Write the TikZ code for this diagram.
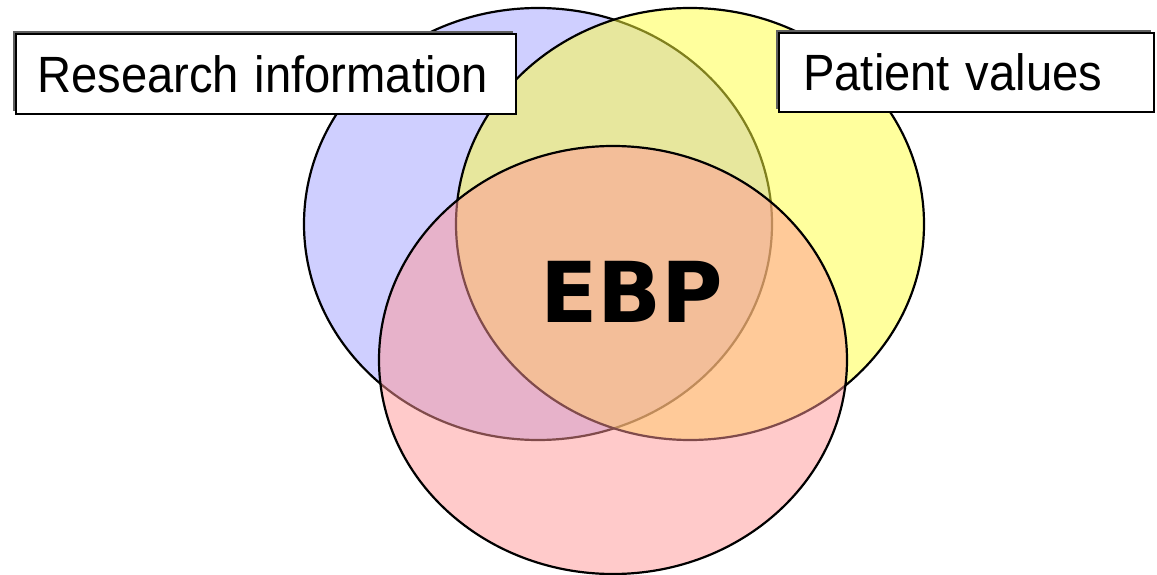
\documentclass[tikz,border=0pt]{standalone}
\usepackage{fontspec}
\setmainfont{Liberation Sans}
\newfontfamily\ebpfont{DejaVu Sans}
\usetikzlibrary{shadows}
\definecolor{cblue}{RGB}{160,160,255}
\definecolor{cyellow}{RGB}{255,255,60}
\definecolor{cred}{RGB}{255,150,150}
\definecolor{shadowgray}{RGB}{95,95,95}
\tikzset{
  venn/.style={draw=black, line width=2.2pt, fill opacity=0.5},
  labelbox/.style={draw=black, line width=2.4pt, fill=white, rectangle,
    anchor=north west, align=left, inner ysep=0pt,
    font=\fontsize{51}{56}\selectfont,
    drop shadow={shadow xshift=-3.5pt, shadow yshift=3.5pt, fill=shadowgray, opacity=1}},
}
\begin{document}
\begin{tikzpicture}[x=1pt,y=-1pt]
\useasboundingbox (0,0) rectangle (1157,575);
\fill[white] (0,0) rectangle (1157,575);
% circles
\draw[venn, fill=cblue] (538,224) ellipse [x radius=234, y radius=216];
\draw[venn, fill=cyellow] (690,224) ellipse [x radius=234, y radius=216];
\draw[venn, fill=cred] (613,360) ellipse [x radius=234, y radius=214];
% labels
\node[labelbox, inner xsep=21pt, text width=458pt, minimum height=80pt] (research) at (15,33)
  {\scalebox{0.925}[1]{Research information}};
\node[labelbox, inner xsep=24pt, text width=327pt, minimum height=79pt] (patient) at (778,32)
  {\scalebox{0.925}[1]{Patient values}};
\node[inner sep=0pt, font=\ebpfont\bfseries\fontsize{84}{90}\selectfont] (ebp) at (632,292) {EBP};
\end{tikzpicture}
\end{document}
